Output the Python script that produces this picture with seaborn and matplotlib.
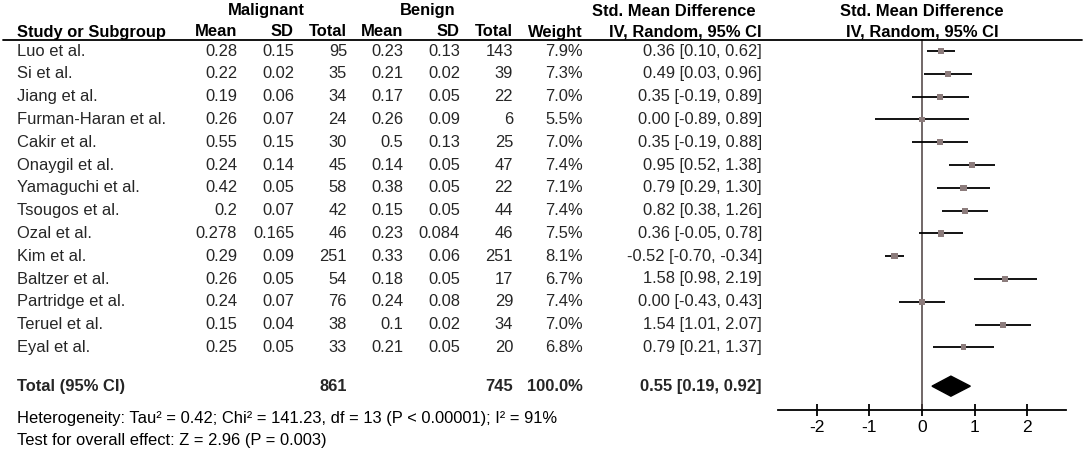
import numpy as np
import pandas as pd
import matplotlib
matplotlib.use("Agg")
import matplotlib.pyplot as plt
import matplotlib.transforms as mtransforms
from matplotlib.lines import Line2D
import seaborn as sns

# ---- data ----
studies = ["Luo et al.", "Si et al.", "Jiang et al.", "Furman-Haran et al.", "Cakir et al.",
           "Onaygil et al.", "Yamaguchi et al.", "Tsougos et al.", "Ozal et al.", "Kim et al.",
           "Baltzer et al.", "Partridge et al.", "Teruel et al.", "Eyal et al."]
mal_mean = [0.28, 0.22, 0.19, 0.26, 0.55, 0.24, 0.42, 0.2, 0.278, 0.29, 0.26, 0.24, 0.15, 0.25]
mal_sd = [0.15, 0.02, 0.06, 0.07, 0.15, 0.14, 0.05, 0.07, 0.165, 0.09, 0.05, 0.07, 0.04, 0.05]
mal_n = [95, 35, 34, 24, 30, 45, 58, 42, 46, 251, 54, 76, 38, 33]
ben_mean = [0.23, 0.21, 0.17, 0.26, 0.5, 0.14, 0.38, 0.15, 0.23, 0.33, 0.18, 0.24, 0.1, 0.21]
ben_sd = [0.13, 0.02, 0.05, 0.09, 0.13, 0.05, 0.05, 0.05, 0.084, 0.06, 0.05, 0.08, 0.02, 0.05]
ben_n = [143, 39, 22, 6, 25, 47, 22, 44, 46, 251, 17, 29, 34, 20]
weight = [7.9, 7.3, 7.0, 5.5, 7.0, 7.4, 7.1, 7.4, 7.5, 8.1, 6.7, 7.4, 7.0, 6.8]
smd = [0.36, 0.49, 0.35, 0.00, 0.35, 0.95, 0.79, 0.82, 0.36, -0.52, 1.58, 0.00, 1.54, 0.79]
ci_lo = [0.10, 0.03, -0.19, -0.89, -0.19, 0.52, 0.29, 0.38, -0.05, -0.70, 0.98, -0.43, 1.01, 0.21]
ci_hi = [0.62, 0.96, 0.89, 0.89, 0.88, 1.38, 1.30, 1.26, 0.78, -0.34, 2.19, 0.43, 2.07, 1.37]

total_mal = 861
total_ben = 745
total_smd = 0.55
total_lo = 0.19
total_hi = 0.92
xticks = [-2, -1, 0, 1, 2]
heterogeneity = "Heterogeneity: Tau\u00b2 = 0.42; Chi\u00b2 = 141.23, df = 13 (P < 0.00001); I\u00b2 = 91%"
overall = "Test for overall effect: Z = 2.96 (P = 0.003)"

df = pd.DataFrame({"study": studies, "smd": smd, "lo": ci_lo, "hi": ci_hi, "weight": weight})
df["row"] = np.arange(len(df))

sns.set_theme(style="white")
plt.rcParams["font.family"] = ["Liberation Sans", "DejaVu Sans"]
FS = 11.9

W, H = 1084, 450
fig = plt.figure(figsize=(W / 100, H / 100), dpi=100)

# forest panel: x from 778 to 1066 px, y from 39 to 410 px
ax = fig.add_axes([778 / W, 1 - 410 / H, (1066 - 778) / W, (410 - 39) / H])
row_px0, row_step = 51, 22.8
ax.set_ylim((410 - row_px0) / row_step, (39 - row_px0) / row_step)
ax.set_xlim(-2.74, 2.74)

ax.axvline(0, color="#4a3f3f", lw=1.1, zorder=1)
ax.hlines(df["row"], df["lo"], df["hi"], color="black", lw=1.3, zorder=2)
sns.scatterplot(data=df, x="smd", y="row", size="weight", sizes=(14, 22), marker="s",
                color="#8c7c7c", edgecolor="none", legend=False, ax=ax, zorder=3)

total_row = 14.7
ax.fill([total_lo, total_smd, total_hi, total_smd],
        [total_row, total_row - 0.44, total_row, total_row + 0.44],
        color="black", zorder=3)

for s in ["top", "left", "right"]:
    ax.spines[s].set_visible(False)
ax.spines["bottom"].set_color("black")
ax.spines["bottom"].set_linewidth(1.3)
ax.set_xticks(xticks)
ax.set_xticklabels([str(t) for t in xticks])
ax.set_yticks([])
ax.tick_params(axis="x", bottom=True, direction="inout", length=9, width=1.3,
               labelsize=12.6, pad=3, colors="black")
ax.set_xlabel("")
ax.set_ylabel("")
ax.patch.set_alpha(0)

# text table: x in figure pixels, y in row units of the forest panel
tr = mtransforms.blended_transform_factory(fig.transFigure, ax.transData)


def px(x):
    return x / W


def fig_text(x, y, s, ha="left", bold=False):
    fig.text(px(x), 1 - y / H, s, ha=ha, va="center", fontsize=FS,
             fontweight="bold" if bold else "normal", color="black")


# headers
fig_text(266, 11, "Malignant", ha="center", bold=True)
fig_text(428, 11, "Benign", ha="center", bold=True)
fig_text(674, 11, "Std. Mean Difference", ha="center", bold=True)
fig_text(922, 11, "Std. Mean Difference", ha="center", bold=True)
y2 = 32
fig_text(17, y2, "Study or Subgroup", bold=True)
for x, lab in [(237, "Mean"), (294, "SD"), (347, "Total"), (403, "Mean"),
               (460, "SD"), (513, "Total"), (583, "Weight"), (762, "IV, Random, 95% CI")]:
    fig_text(x, y2, lab, ha="right", bold=True)
fig_text(922, y2, "IV, Random, 95% CI", ha="center", bold=True)
fig.add_artist(Line2D([px(3), px(1082)], [1 - 39.5 / H, 1 - 39.5 / H],
                      color="black", lw=1.3))

cols_x = [237, 294, 347, 403, 460, 513, 583, 762]
for i in range(len(studies)):
    vals = [str(mal_mean[i]), str(mal_sd[i]), str(mal_n[i]), str(ben_mean[i]),
            str(ben_sd[i]), str(ben_n[i]), f"{weight[i]:.1f}%",
            f"{smd[i]:.2f} [{ci_lo[i]:.2f}, {ci_hi[i]:.2f}]"]
    ax.text(px(17), i, studies[i], transform=tr, ha="left", va="center", fontsize=FS)
    for x, v in zip(cols_x, vals):
        ax.text(px(x), i, v, transform=tr, ha="right", va="center", fontsize=FS)

ax.text(px(17), total_row, "Total (95% CI)", transform=tr, ha="left", va="center",
        fontsize=FS, fontweight="bold")
for x, v in [(347, str(total_mal)), (513, str(total_ben)), (583, "100.0%"),
             (762, f"{total_smd:.2f} [{total_lo:.2f}, {total_hi:.2f}]")]:
    ax.text(px(x), total_row, v, transform=tr, ha="right", va="center",
            fontsize=FS, fontweight="bold")

fig_text(17, 418, heterogeneity)
fig_text(17, 440, overall)

fig.savefig("out.png", dpi=100, facecolor="white")
